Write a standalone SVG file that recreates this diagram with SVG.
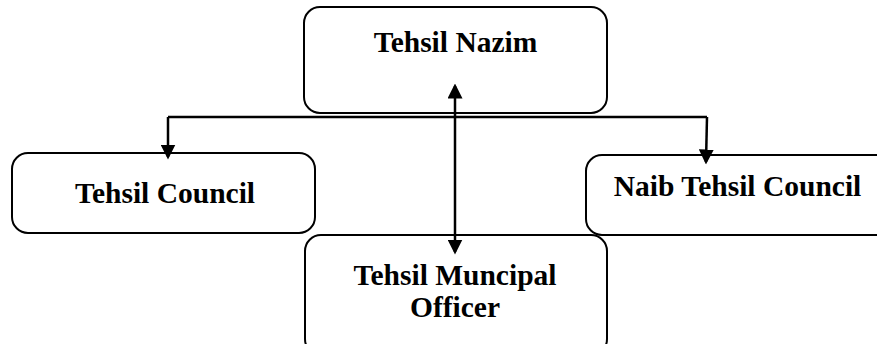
<svg xmlns="http://www.w3.org/2000/svg" width="877" height="344" viewBox="0 0 877 344">
<style>
.box{fill:#fff;stroke:#000;stroke-width:2}
.t{font-family:"Liberation Serif","Times New Roman",serif;font-weight:bold;font-size:29.5px;fill:#000;text-anchor:middle}
.c{fill:none;stroke:#000;stroke-width:2.5}
</style>
<defs>
<marker id="ah" markerWidth="6" markerHeight="6" refX="5" refY="3" orient="auto-start-reverse" markerUnits="strokeWidth" viewBox="0 0 6 6">
<path d="M0,0 L6,3 L0,6 Z" fill="#000"/>
</marker>
</defs>
<rect width="877" height="344" fill="#fff"/>
<g id="node-tehsil-nazim">
<rect class="box" x="304" y="7" width="303" height="106" rx="16"/>
<text class="t" x="455.5" y="52">Tehsil Nazim</text>
</g>
<g id="node-tehsil-council">
<rect class="box" x="12" y="153" width="303" height="80" rx="16"/>
<text class="t" x="165" y="203">Tehsil Council</text>
</g>
<g id="node-naib-tehsil-council">
<rect class="box" x="586" y="155" width="320" height="80" rx="16"/>
<text class="t" x="737.5" y="196">Naib Tehsil Council</text>
</g>
<g id="node-tehsil-muncipal-officer">
<rect class="box" x="305" y="235" width="302" height="120" rx="16"/>
<text class="t" x="455" y="285">Tehsil Muncipal</text>
<text class="t" x="455" y="317">Officer</text>
</g>
<g id="connectors">
<path class="c" d="M168,117 L707,117"/>
<path class="c" d="M168,117 L168,157" marker-end="url(#ah)"/>
<path class="c" d="M707,117 L706,162" marker-end="url(#ah)"/>
<path class="c" d="M455,252 L455,86" marker-start="url(#ah)" marker-end="url(#ah)"/>
</g>
</svg>
